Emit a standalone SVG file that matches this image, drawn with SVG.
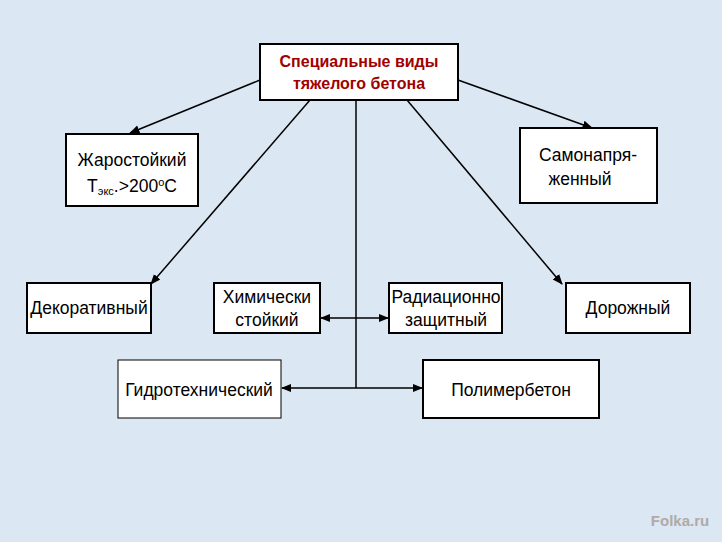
<svg xmlns="http://www.w3.org/2000/svg" width="722" height="542" viewBox="0 0 722 542">
<style>
.b{fill:#fff;stroke:#000;stroke-width:2}
.t{font-family:"Liberation Sans",Arial,sans-serif;font-size:17.5px;fill:#000;text-anchor:middle}
.c line{stroke:#000;stroke-width:1.5}
</style>
<defs>
<marker id="a" viewBox="0 0 10 10" refX="9" refY="5" markerWidth="7" markerHeight="7" orient="auto-start-reverse"><path d="M0,1 L10,5 L0,9 z" fill="#000"/></marker>
</defs>
<rect width="722" height="542" fill="#dbe7f2"/>
<g class="c">
<line x1="260" y1="80" x2="130" y2="133" marker-end="url(#a)"/>
<line x1="458" y1="80" x2="592" y2="128" marker-end="url(#a)"/>
<line x1="310" y1="100" x2="151" y2="284" marker-end="url(#a)"/>
<line x1="407" y1="100" x2="562" y2="284" marker-end="url(#a)"/>
<line x1="356" y1="100" x2="356" y2="388"/>
<line x1="321" y1="318" x2="388" y2="318" marker-start="url(#a)" marker-end="url(#a)"/>
<line x1="282" y1="388" x2="422" y2="388" marker-start="url(#a)" marker-end="url(#a)"/>
</g>
<g id="root"><rect class="b" x="260" y="44" width="198" height="56"/><text class="t" x="359" y="67" font-weight="bold" style="fill:#a00000;font-size:16px">Специальные виды</text><text class="t" x="359" y="89" font-weight="bold" style="fill:#a00000;font-size:16px">тяжелого бетона</text></g>
<g id="n1"><rect class="b" x="66" y="134" width="132" height="72"/><text class="t" x="132" y="166">Жаростойкий</text><text class="t" x="132" y="192">Т<tspan font-size="11" dy="3">экс</tspan><tspan dy="-3">.&gt;200</tspan><tspan font-size="11" dy="-6">о</tspan><tspan dy="6">С</tspan></text></g>
<g id="n2"><rect class="b" x="520" y="128" width="137" height="75"/><text class="t" x="588" y="161">Самонапря-</text><text class="t" x="580" y="185">женный</text></g>
<g id="n3"><rect class="b" x="27" y="283" width="124" height="50"/><text class="t" x="89" y="314">Декоративный</text></g>
<g id="n4"><rect class="b" x="214" y="283" width="106" height="50"/><text class="t" x="267" y="303">Химически</text><text class="t" x="267" y="326">стойкий</text></g>
<g id="n5"><rect class="b" x="389" y="283" width="113" height="50"/><text class="t" x="446" y="303">Радиационно</text><text class="t" x="446" y="326">защитный</text></g>
<g id="n6"><rect class="b" x="566" y="283" width="124" height="50"/><text class="t" x="628" y="314">Дорожный</text></g>
<g id="n7"><rect class="b" x="118" y="360" width="163" height="58" style="stroke-width:1"/><text class="t" x="199" y="396">Гидротехнический</text></g>
<g id="n8"><rect class="b" x="423" y="360" width="176" height="58"/><text class="t" x="511" y="396">Полимербетон</text></g>
<text x="680" y="526" font-family="Liberation Sans,Arial,sans-serif" font-size="15" font-weight="bold" fill="#b0aaa8" text-anchor="middle">Folka.ru</text>
</svg>
